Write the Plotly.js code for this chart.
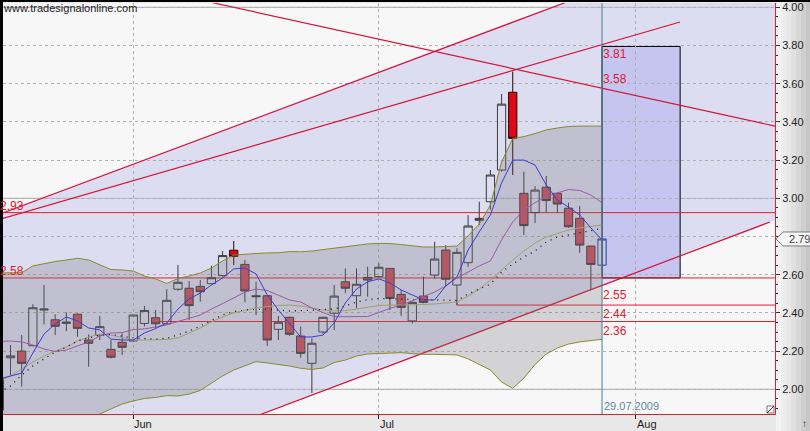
<!DOCTYPE html>
<html><head><meta charset="utf-8">
<script src="https://cdn.plot.ly/plotly-3.0.1.min.js"></script>
<style>html,body{margin:0;padding:0;background:#e8e8e8;overflow:hidden}#chart{width:810px;height:431px}</style>
</head><body><div id="chart"></div>
<script>
// ---------- DATA ----------
const dates = ['2009-05-14','2009-05-15','2009-05-18','2009-05-19','2009-05-20','2009-05-21','2009-05-22','2009-05-25','2009-05-26','2009-05-27','2009-05-28','2009-05-29',
'2009-06-01','2009-06-02','2009-06-03','2009-06-04','2009-06-05','2009-06-08','2009-06-09','2009-06-10','2009-06-11','2009-06-12',
'2009-06-15','2009-06-16','2009-06-17','2009-06-18','2009-06-19','2009-06-22','2009-06-23','2009-06-24','2009-06-25','2009-06-26',
'2009-06-29','2009-06-30','2009-07-01','2009-07-02','2009-07-03','2009-07-06','2009-07-07','2009-07-08','2009-07-09','2009-07-10',
'2009-07-13','2009-07-14','2009-07-15','2009-07-16','2009-07-17','2009-07-20','2009-07-21','2009-07-22','2009-07-23','2009-07-24',
'2009-07-27','2009-07-28','2009-07-29'];
const open  = [1.89,2.165,2.20,2.228,2.415,2.364,2.345,2.393,2.258,2.284,2.209,2.246,
2.253,2.345,2.375,2.343,2.524,2.529,2.539,2.553,2.595,2.728,
2.654,2.49,2.49,2.314,2.377,2.279,2.136,2.30,2.398,2.563,
2.49,2.586,2.59,2.633,2.497,2.358,2.488,2.598,2.729,2.546,
2.663,2.895,2.982,3.148,3.555,3.026,2.925,3.058,3.026,2.948,
2.895,2.75,2.65];
const high  = [2.08,2.232,2.284,2.445,2.546,2.393,2.403,2.398,2.288,2.384,2.258,2.293,
2.39,2.436,2.415,2.524,2.651,2.567,2.572,2.647,2.724,2.776,
2.677,2.563,2.49,2.384,2.38,2.328,2.267,2.38,2.546,2.633,
2.633,2.642,2.66,2.635,2.52,2.46,2.59,2.773,2.755,2.738,
2.912,2.982,3.148,3.546,3.663,3.139,3.064,3.117,3.03,2.977,
2.96,2.752,2.79];
const low   = [1.87,2.075,2.014,2.225,2.34,2.284,2.305,2.275,2.118,2.258,2.162,2.18,
2.25,2.33,2.32,2.34,2.515,2.363,2.459,2.55,2.59,2.651,
2.456,2.389,2.228,2.258,2.28,2.165,1.98,2.29,2.31,2.503,
2.424,2.485,2.585,2.415,2.385,2.345,2.45,2.58,2.537,2.44,
2.642,2.86,2.94,3.14,3.122,2.808,2.87,2.925,2.925,2.845,
2.715,2.52,2.645];
const close = [2.06,2.175,2.136,2.427,2.42,2.33,2.352,2.319,2.241,2.328,2.168,2.22,
2.389,2.413,2.343,2.466,2.56,2.438,2.511,2.584,2.70,2.696,
2.515,2.485,2.258,2.351,2.288,2.188,2.241,2.377,2.488,2.529,
2.55,2.572,2.639,2.476,2.429,2.455,2.455,2.682,2.576,2.717,
2.855,2.885,3.122,3.493,3.314,2.857,3.043,2.988,2.97,2.851,
2.755,2.654,2.787];
const bbUpper = [2.610,2.610,2.610,2.646,2.659,2.669,2.677,2.686,2.677,2.651,2.627,2.625,
2.619,2.593,2.578,2.554,2.580,2.593,2.609,2.635,2.672,2.703,
2.708,2.711,2.714,2.715,2.721,2.720,2.724,2.732,2.738,2.745,
2.753,2.761,2.764,2.763,2.758,2.752,2.745,2.745,2.747,2.750,
2.803,2.865,2.965,3.190,3.314,3.323,3.339,3.358,3.368,3.376,
3.378,3.378,3.378];
const bbLower = [1.734,1.745,1.756,1.776,1.797,1.808,1.813,1.818,1.839,1.871,1.897,1.923,
1.939,1.952,1.957,1.967,1.965,1.975,1.994,2.033,2.070,2.101,
2.122,2.145,2.138,2.130,2.122,2.110,2.104,2.112,2.140,2.153,
2.174,2.185,2.187,2.192,2.192,2.187,2.183,2.183,2.182,2.180,
2.159,2.132,2.101,2.038,2.005,2.059,2.130,2.185,2.216,2.237,
2.248,2.255,2.262];
const maFast = [2.054,2.070,2.085,2.190,2.289,2.342,2.379,2.358,2.321,2.311,2.263,2.258,
2.258,2.295,2.318,2.347,2.420,2.473,2.504,2.546,2.583,2.630,
2.635,2.604,2.494,2.415,2.342,2.274,2.274,2.284,2.347,2.452,
2.525,2.563,2.578,2.557,2.520,2.494,2.468,2.468,2.541,2.588,
2.729,2.824,2.913,3.080,3.200,3.200,3.174,3.070,2.991,2.954,
2.913,2.845,2.782];
const maMid = [2.250,2.253,2.248,2.232,2.211,2.198,2.206,2.227,2.248,2.279,2.295,2.297,
2.313,2.316,2.326,2.337,2.355,2.373,2.389,2.420,2.447,2.478,
2.509,2.525,2.517,2.494,2.468,2.457,2.426,2.402,2.381,2.380,
2.380,2.381,2.402,2.424,2.441,2.465,2.488,2.509,2.541,2.583,
2.614,2.646,2.672,2.782,2.876,2.939,2.978,3.007,3.028,3.046,
3.041,3.017,2.977];
const maSlow = [2.043,2.070,2.106,2.143,2.174,2.201,2.221,2.253,2.274,2.289,2.284,2.269,
2.258,2.258,2.258,2.261,2.269,2.295,2.321,2.352,2.379,2.400,
2.415,2.426,2.433,2.439,2.441,2.436,2.426,2.415,2.410,2.412,
2.420,2.431,2.439,2.441,2.441,2.441,2.444,2.447,2.452,2.457,
2.488,2.525,2.572,2.625,2.677,2.724,2.766,2.797,2.816,2.834,
2.845,2.852,2.860];
const maDotted = [1.986,2.017,2.075,2.122,2.159,2.195,2.221,2.253,2.269,2.284,2.287,2.279,
2.269,2.266,2.263,2.266,2.284,2.305,2.331,2.358,2.389,2.407,
2.415,2.418,2.420,2.415,2.410,2.412,2.415,2.415,2.420,2.436,
2.457,2.470,2.475,2.475,2.473,2.468,2.468,2.468,2.465,2.465,
2.499,2.525,2.551,2.614,2.656,2.693,2.724,2.771,2.797,2.808,
2.818,2.829,2.842];
const brightDates = ['2009-06-12','2009-07-17'];
const tickDates = ['2009-06-01','2009-07-01','2009-08-03'];
const tickLabels = ['Jun','Jul','Aug'];
const yTickValues = [2.0,2.2,2.4,2.6,2.8,3.0,3.2,3.4,3.6,3.8,4.0];
// horizontal levels: value, start date (null = full width), left label
const levelValues = [2.925, 2.583, 2.441, 2.355];
const levelStarts = [null, null, '2009-07-10', '2009-06-03'];
const leftLabels = ['2.93','2.58',null,null];
// trend lines as [trading-day position, price] pairs
const trendA = [[-0.84,2.898],[56.12,4.143]];
const trendB = [[0.06,2.890],[60.99,3.923]];
const trendC = [[17.08,4.050],[69.5,3.378]];
const trendLow = [[22.45,1.847],[69.05,2.876]];
// labels at the date line
const markerDate = '2009-07-29';
const markerLabels = ['3.81','3.58','2.55','2.44','2.36'];
const markerValues = [3.805, 3.577, 2.543, 2.441, 2.355];
const markerAnchors = ['top','bottom','top','top','top'];
const zoneLow = 2.583, zoneHigh = 3.795, zoneDays = 7;

// ---------- SCALE HELPERS ----------
function tdIndex(ds){
  const s = new Date(dates[0]+'T00:00:00Z'), d = new Date(ds+'T00:00:00Z');
  let n = 0;
  for(let t = new Date(s); t < d; t.setUTCDate(t.getUTCDate()+1)){ const w = t.getUTCDay(); if(w!==0 && w!==6) n++; }
  return n;
}
const X = dates.map(tdIndex);
const Y0 = 1.8707, Y1 = 4.0225, XR = [0.324, 69.5];
const lineAt = (p,k) => p[0][1] + (p[1][1]-p[0][1])*(k-p[0][0])/(p[1][0]-p[0][0]);
const px2paper = px => (px-3)/772;

const FONT = 'Liberation Sans, Arial, sans-serif';
const RED = '#e0202e', TREND = '#d4143a';

// split candles
const brightK = brightDates.map(tdIndex);
const lastK = X[X.length-1];
function subset(pred){
  const f = a => a.map((v,i)=> pred(X[i]) ? v : null);
  return {x:X, open:f(open), high:f(high), low:f(low), close:f(close)};
}
const mainC = subset(k => !brightK.includes(k) && k!==lastK);
const brightC = subset(k => brightK.includes(k));
const lastC = subset(k => k===lastK);

const candleBase = {type:'candlestick', hoverinfo:'skip', showlegend:false, whiskerwidth:0};
const traces = [
  {type:'scatter', mode:'lines', x:X, y:bbLower, line:{color:'#8a8a2a', width:1}, hoverinfo:'skip'},
  {type:'scatter', mode:'lines', x:X, y:bbUpper, line:{color:'#8a8a2a', width:1}, fill:'tonexty', fillcolor:'rgba(120,120,125,0.28)', hoverinfo:'skip'},
  Object.assign({}, candleBase, mainC, {
    increasing:{line:{color:'#3a3a3a', width:1}, fillcolor:'rgba(0,0,0,0)'},
    decreasing:{line:{color:'#3a3a3a', width:1}, fillcolor:'#cf4b5c'}}),
  Object.assign({}, candleBase, brightC, {
    increasing:{line:{color:'#3a3a3a', width:1}, fillcolor:'rgba(0,0,0,0)'},
    decreasing:{line:{color:'#2a0000', width:1}, fillcolor:'#dd0a18'}}),
  Object.assign({}, candleBase, lastC, {
    increasing:{line:{color:'#28409a', width:1}, fillcolor:'rgba(0,0,0,0)'},
    decreasing:{line:{color:'#28409a', width:1}, fillcolor:'#cf4b5c'}}),
  {type:'scatter', mode:'lines', x:X, y:maSlow, line:{color:'#a0a070', width:1}, hoverinfo:'skip'},
  {type:'scatter', mode:'lines', x:X, y:maDotted, line:{color:'#111', width:1.3, dash:'1px,5px'}, hoverinfo:'skip'},
  {type:'scatter', mode:'lines', x:X, y:maMid, line:{color:'#9a5aa6', width:1}, hoverinfo:'skip'},
  {type:'scatter', mode:'lines', x:X, y:maFast, line:{color:'#3c3cd0', width:1}, hoverinfo:'skip'}
];

// ---------- SHAPES ----------
const shapes = [];
const grad = ['#f3f3f3','#eeeeee','#e8e8e8','#e0e0e0','#d8d8d8','#cfcfcf','#c6c6c6'];
grad.forEach((c,j)=>shapes.push({type:'rect', xref:'paper', yref:'paper', x0:px2paper(776+j*5), x1:px2paper(776+(j+1)*5+1), y0:-0.05, y1:1.01, fillcolor:c, line:{width:0}, layer:'below'}));
const kL = -2, kR = 72;
shapes.push({type:'path', xref:'x', yref:'y', layer:'below', line:{width:0}, fillcolor:'rgba(200,200,236,0.55)',
  path:`M${kL},${lineAt(trendA,kL)} L${kR},${lineAt(trendA,kR)} L${kR},${lineAt(trendLow,kR)} L${kL},${lineAt(trendLow,kL)} Z`});
const mk = tdIndex(markerDate);
shapes.push({type:'rect', xref:'x', yref:'y', layer:'below', x0:mk, x1:mk+zoneDays, y0:zoneLow, y1:zoneHigh, fillcolor:'#c5c5f0', line:{color:'#000', width:1}});
[2,3,4].forEach(v=>shapes.push({type:'line', xref:'paper', yref:'y', layer:'between', x0:0, x1:1, y0:v, y1:v, line:{color:'#a9a9a9', width:1}}));
levelValues.forEach((v,j)=>shapes.push({type:'line', xref:'x', yref:'y', layer:'between', x0: levelStarts[j] ? tdIndex(levelStarts[j]) : XR[0]-1, x1:XR[1]+1, y0:v, y1:v, line:{color:RED, width:1}}));
shapes.push({type:'line', xref:'x', yref:'y', layer:'between', x0:tdIndex(levelStarts[2]), x1:tdIndex(levelStarts[2]), y0:levelValues[2], y1:levelValues[2]+0.025, line:{color:RED, width:1}});
[trendA, trendB, trendC, trendLow].forEach(p=>shapes.push({type:'line', xref:'x', yref:'y', layer:'between', x0:p[0][0], y0:p[0][1], x1:p[1][0], y1:p[1][1], line:{color:TREND, width:1.2}}));
shapes.push({type:'line', xref:'x', yref:'paper', layer:'above', x0:mk, x1:mk, y0:0, y1:1, line:{color:'#4a7d95', width:1}});
const lastClose = close[close.length-1];
const yp = (lastClose - Y0)/(Y1 - Y0), hh = 7/411;
shapes.push({type:'path', xref:'paper', yref:'paper', layer:'above', fillcolor:'#f6f6f6', line:{color:'#7a7a7a', width:1},
  path:`M${px2paper(776)},${yp} L${px2paper(783)},${yp+hh} L${px2paper(815)},${yp+hh} L${px2paper(815)},${yp-hh} L${px2paper(783)},${yp-hh} Z`});
shapes.push({type:'rect', xref:'paper', yref:'paper', layer:'above', x0:px2paper(767), x1:px2paper(774), y0:1/411, y1:8/411, fillcolor:'#fafafa', line:{color:'#777', width:1}});
shapes.push({type:'line', xref:'paper', yref:'paper', layer:'above', x0:px2paper(767), x1:px2paper(774), y0:1/411, y1:8/411, line:{color:'#333', width:1}});
shapes.push({type:'rect', xref:'paper', yref:'paper', layer:'above', x0:px2paper(0), x1:px2paper(3), y0:-0.05, y1:1.01, fillcolor:'#000', line:{width:0}});
shapes.push({type:'rect', xref:'paper', yref:'paper', layer:'above', x0:px2paper(0), x1:px2paper(811), y0:(414-2)/411, y1:(414+1)/411, fillcolor:'#000', line:{width:0}});

// ---------- ANNOTATIONS ----------
const annotations = [];
annotations.push({xref:'paper', yref:'paper', x:0, y:1, xanchor:'left', yanchor:'top', xshift:-2, yshift:3, showarrow:false,
  text:'www.tradesignalonline.com', font:{family:FONT, size:11, color:'#222'}});
levelValues.forEach((v,j)=>{ if(leftLabels[j]) annotations.push({xref:'paper', yref:'y', x:0, y:v, xanchor:'left', yanchor:'bottom', xshift:-5, yshift:-2, showarrow:false, text:leftLabels[j], font:{family:FONT, size:12, color:RED}}); });
markerLabels.forEach((t,j)=>annotations.push({xref:'x', yref:'y', x:mk, y:markerValues[j], xanchor:'left', yanchor:markerAnchors[j], xshift:-1, showarrow:false, text:t, font:{family:FONT, size:12, color:RED}}));
annotations.push({xref:'x', yref:'paper', x:mk, y:0, xanchor:'left', yanchor:'bottom', showarrow:false, text:'29.07.2009', font:{family:FONT, size:11, color:'#5f8c9c'}});
annotations.push({xref:'paper', yref:'paper', x:px2paper(787), y:yp, xanchor:'left', yanchor:'middle', showarrow:false, text:lastClose.toFixed(2), font:{family:FONT, size:11, color:'#444'}});
annotations.push({xref:'paper', yref:'paper', x:px2paper(805), y:-9/411, xanchor:'center', yanchor:'middle', showarrow:false, text:'↑', font:{family:FONT, size:10, color:'#222'}});
// month labels (left-aligned at their tick, as in the reference)
tickDates.forEach((d,j)=>annotations.push({xref:'x', yref:'paper', x:tdIndex(d), y:-10/411, xanchor:'left', yanchor:'middle', xshift:-1, showarrow:false, text:tickLabels[j], font:{family:FONT, size:11, color:'#222'}}));

// y tick labels: the one hidden under the price tag is left blank, as in the reference
const yTickText = yTickValues.map(v => Math.abs(v - lastClose) < 0.03 ? '' : v.toFixed(2));

const layout = {
  width:810, height:431, margin:{l:3, r:35, t:3, b:17, pad:0},
  paper_bgcolor:'#e8e8e8', plot_bgcolor:'#f7f7f7', showlegend:false,
  boxmode:'overlay', boxgap:0.26, boxgroupgap:0,
  xaxis:{type:'linear', range:XR, tickvals:tickDates.map(tdIndex), showticklabels:false,
    showgrid:true, gridcolor:'#b0b0b0', griddash:'dot', gridwidth:1,
    showline:true, linecolor:RED, linewidth:1, ticks:'outside', ticklen:4, tickcolor:'#222',
    zeroline:false, rangeslider:{visible:false}, fixedrange:true},
  yaxis:{side:'right', range:[Y0,Y1], tickvals:yTickValues, ticktext:yTickText,
    showgrid:true, gridcolor:'#b0b0b0', griddash:'dot', gridwidth:1,
    showline:true, linecolor:RED, linewidth:1, ticks:'outside', ticklen:4, tickcolor:'#333',
    tickfont:{family:FONT, size:11, color:'#222'}, zeroline:false, fixedrange:true,
    minor:{dtick:0.05, tick0:0, ticks:'outside', ticklen:2, tickcolor:'#333', showgrid:false}},
  shapes, annotations
};
Plotly.newPlot('chart', traces, layout, {staticPlot:true, displayModeBar:false});
</script>
</body></html>
